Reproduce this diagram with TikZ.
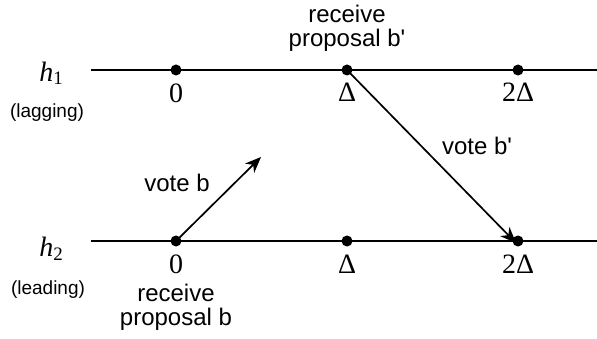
\documentclass[tikz,border=0pt]{standalone}
\usepackage{fontspec}
\setmainfont{Liberation Sans}[Ligatures=TeXOff]
\newfontfamily\serfont{Liberation Serif}
\usetikzlibrary{arrows.meta}
\begin{document}
\begin{tikzpicture}[x=1pt,y=-1pt,
  tl/.style={line width=1.9pt},
  ev/.style={circle,fill=black,inner sep=0pt,minimum size=11pt},
  mlab/.style={font=\serfont\fontsize{28}{30}\selectfont,inner sep=0pt,anchor=base},
  slab/.style={font=\fontsize{24}{26}\selectfont,inner sep=0pt,anchor=base},
  small/.style={font=\fontsize{19}{22}\selectfont,inner sep=0pt,anchor=base},
  arr/.style={line width=1.7pt,-{Stealth[length=16pt,width=13pt,inset=5pt]}}]
\useasboundingbox (0,0) rectangle (597,339);
% lines
\coordinate (l1s) at (91,70); \coordinate (l1e) at (597,70);
\coordinate (l2s) at (91,241); \coordinate (l2e) at (597,241);
\draw[tl] (l1s) -- (l1e);
\draw[tl] (l2s) -- (l2e);
% events
\node[ev] (a0) at (176,70) {};
\node[ev] (a1) at (347,70) {};
\node[ev] (a2) at (518,70) {};
\node[ev] (b0) at (176,241) {};
\node[ev] (b1) at (347,241) {};
\node[ev] (b2) at (518,241) {};
% row labels
\node[mlab] (h1) at (51,82) {{\itshape h}\raisebox{-3pt}{\fontsize{19}{20}\selectfont 1}};
\node[small] (lag) at (47,118) {(lagging)};
\node[mlab] (h2) at (51,257) {{\itshape h}\raisebox{-3pt}{\fontsize{19}{20}\selectfont 2}};
\node[small] (lead) at (48,294) {(leading)};
% time labels
\node[mlab] (t10) at (176,103) {0};
\node[mlab] (t11) at (347,102) {Δ};
\node[mlab] (t12) at (518,102) {2Δ};
\node[mlab] (t20) at (176,273) {0};
\node[mlab] (t21) at (347,273) {Δ};
\node[mlab] (t22) at (518,273) {2Δ};
% texts
\node[slab] (rb1a) at (347,23) {receive};
\node[slab] (rb1b) at (347,47) {proposal b'};
\node[slab] (rb0a) at (176,301) {receive};
\node[slab] (rb0b) at (176,325) {proposal b};
% arrows
\coordinate (vb) at (261,157);
\draw[arr] (b0.center) -- (vb);
\draw[arr] (a1.center) -- ([xshift=-2pt,yshift=-2pt]b2.center);
\node[slab] (lvb) at (177,192) {vote b};
\node[slab] (lvb2) at (477,155) {vote b'};
\end{tikzpicture}
\end{document}
